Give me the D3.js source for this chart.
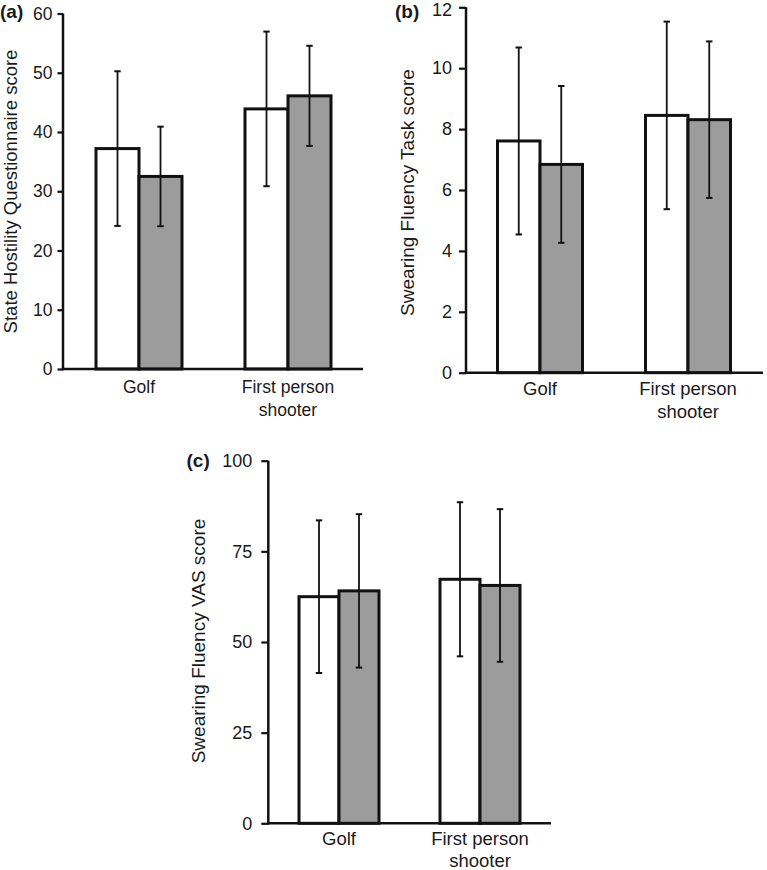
<!DOCTYPE html>
<html>
<head>
<meta charset="utf-8">
<script src="https://cdn.jsdelivr.net/npm/d3@7"></script>
<style>
  html, body { margin: 0; padding: 0; background: #fff; }
  svg { display: block; }
  text { font-family: "Liberation Sans", Arial, Helvetica, sans-serif; fill: #1a1a1a; }
</style>
</head>
<body>
<svg id="chart" width="767" height="870"></svg>
<script>
// ---------------- DATA ----------------
const categories = ["Golf", "First person shooter"];
const seriesNames = ["Condition 1", "Condition 2"];

// (a) State Hostility Questionnaire score
const hostilityMeanWhite = [37.2, 43.9];
const hostilitySdWhite   = [13.05, 13.05];
const hostilityMeanGrey  = [32.5, 46.1];
const hostilitySdGrey    = [8.4, 8.45];
const hostilityTicks     = [0, 10, 20, 30, 40, 50, 60];

// (b) Swearing Fluency Task score
const taskMeanWhite = [7.61, 8.45];
const taskSdWhite   = [3.07, 3.08];
const taskMeanGrey  = [6.84, 8.31];
const taskSdGrey    = [2.575, 2.57];
const taskTicks     = [0, 2, 4, 6, 8, 10, 12];

// (c) Swearing Fluency VAS score
const vasMeanWhite = [62.5, 67.3];
const vasSdWhite   = [21.05, 21.25];
const vasMeanGrey  = [64.1, 65.6];
const vasSdGrey    = [21.15, 21.05];
const vasTicks     = [0, 25, 50, 75, 100];

const panelLabels = ["(a)", "(b)", "(c)"];
const axisTitles = [
  "State Hostility Questionnaire score",
  "Swearing Fluency Task score",
  "Swearing Fluency VAS score"
];

// ---------------- LAYOUT ----------------
const fills = ["#ffffff", "#9c9c9c"];
const panels = [
  { label: panelLabels[0], title: axisTitles[0], ticks: hostilityTicks,
    means: [hostilityMeanWhite, hostilityMeanGrey], sds: [hostilitySdWhite, hostilitySdGrey],
    ax: 63, y0: 369, yTop: 13.5, xEnd: 363, c1: 139, c2: 288, bw: 86,
    tickSize: 5.5, tickPad: 5, tickFont: 17.5, catFont: 17.5, titleFont: 18.5,
    titleX: 10, titleY: 191.5, labX: 0, labY: 18, catY1: 393, catY2: 416 },
  { label: panelLabels[1], title: axisTitles[1], ticks: taskTicks,
    means: [taskMeanWhite, taskMeanGrey], sds: [taskSdWhite, taskSdGrey],
    ax: 466, y0: 372.7, yTop: 7.3, xEnd: 763, c1: 540, c2: 688, bw: 85,
    tickSize: 7, tickPad: 7, tickFont: 18, catFont: 18.5, titleFont: 19,
    titleX: 407, titleY: 192.5, labX: 395, labY: 18, catY1: 395, catY2: 418 },
  { label: panelLabels[2], title: axisTitles[2], ticks: vasTicks,
    means: [vasMeanWhite, vasMeanGrey], sds: [vasSdWhite, vasSdGrey],
    ax: 268.3, y0: 823.3, yTop: 460.7, xEnd: 551, c1: 339, c2: 480, bw: 80,
    tickSize: 7, tickPad: 9, tickFont: 18, catFont: 18.5, titleFont: 19,
    titleX: 198, titleY: 641, labX: 186.5, labY: 467, catY1: 845, catY2: 866.5 }
];

const svg = d3.select("#chart");

panels.forEach(p => {
  const g = svg.append("g");
  const maxV = p.ticks[p.ticks.length - 1];
  const y = d3.scaleLinear().domain([0, maxV]).range([p.y0, p.yTop]);
  const pi = 1 - p.bw / (p.c2 - p.c1);
  const x = d3.scaleBand().domain(categories)
    .range([p.c1 - p.bw / 2, p.c2 + p.bw / 2])
    .paddingInner(pi).paddingOuter(0);
  const xs = d3.scaleBand().domain(seriesNames).range([0, x.bandwidth()]).padding(0);

  // Bars
  const rows = [];
  categories.forEach((c, ci) => {
    seriesNames.forEach((s, si) => {
      rows.push({ c, s, si, v: p.means[si][ci], sd: p.sds[si][ci] });
    });
  });

  g.selectAll("rect.bar").data(rows).enter().append("rect")
    .attr("class", "bar")
    .attr("x", d => x(d.c) + xs(d.s))
    .attr("y", d => y(d.v))
    .attr("width", xs.bandwidth())
    .attr("height", d => y(0) - y(d.v))
    .attr("fill", d => fills[d.si])
    .attr("stroke", "#111")
    .attr("stroke-width", 3);

  // Error bars
  const eb = g.selectAll("g.err").data(rows).enter().append("g").attr("class", "err");
  const cx = d => x(d.c) + xs(d.s) + xs.bandwidth() / 2;
  eb.append("line")
    .attr("x1", cx).attr("x2", cx)
    .attr("y1", d => y(d.v + d.sd)).attr("y2", d => y(d.v - d.sd))
    .attr("stroke", "#111").attr("stroke-width", 1.8);
  eb.append("line")
    .attr("x1", d => cx(d) - 3.2).attr("x2", d => cx(d) + 3.2)
    .attr("y1", d => y(d.v + d.sd)).attr("y2", d => y(d.v + d.sd))
    .attr("stroke", "#111").attr("stroke-width", 2);
  eb.append("line")
    .attr("x1", d => cx(d) - 3.2).attr("x2", d => cx(d) + 3.2)
    .attr("y1", d => y(d.v - d.sd)).attr("y2", d => y(d.v - d.sd))
    .attr("stroke", "#111").attr("stroke-width", 2);

  // Y axis
  const yAxis = d3.axisLeft(y).tickValues(p.ticks).tickSize(p.tickSize)
    .tickSizeOuter(0).tickPadding(p.tickPad).tickFormat(d3.format("d"));
  const ya = g.append("g").attr("transform", `translate(${p.ax},0)`).call(yAxis);
  ya.select(".domain").attr("stroke", "#111").attr("stroke-width", 2.5)
    .attr("d", `M0,${p.y0 + 1.25}V${p.yTop}`);
  ya.selectAll(".tick line").attr("stroke", "#111").attr("stroke-width", 2.2);
  ya.selectAll(".tick text").style("font-size", p.tickFont + "px")
    .style("font-family", "'Liberation Sans', Arial, sans-serif").attr("fill", "#1a1a1a");
  // keep a label that would touch the top edge fully inside the page
  ya.selectAll(".tick text").filter(d => y(d) < 12).attr("dy", "0.47em");

  // X axis line
  g.append("line")
    .attr("x1", p.ax - 1.25).attr("x2", p.xEnd)
    .attr("y1", p.y0).attr("y2", p.y0)
    .attr("stroke", "#111").attr("stroke-width", 2.5);

  // Category labels
  categories.forEach(c => {
    const words = c === "First person shooter" ? ["First person", "shooter"] : [c];
    const t = g.append("text")
      .attr("text-anchor", "middle")
      .style("font-size", p.catFont + "px");
    words.forEach((w, i) => {
      t.append("tspan")
        .attr("x", x(c) + x.bandwidth() / 2)
        .attr("y", i === 0 ? p.catY1 : p.catY2)
        .text(w);
    });
  });

  // Axis title
  g.append("text")
    .attr("transform", `translate(${p.titleX},${p.titleY}) rotate(-90)`)
    .attr("text-anchor", "middle")
    .attr("dominant-baseline", "central")
    .style("font-size", p.titleFont + "px")
    .text(p.title);

  // Panel label
  g.append("text")
    .attr("x", p.labX).attr("y", p.labY)
    .style("font-size", "19px").style("font-weight", "bold")
    .text(p.label);
});
</script>
</body>
</html>
